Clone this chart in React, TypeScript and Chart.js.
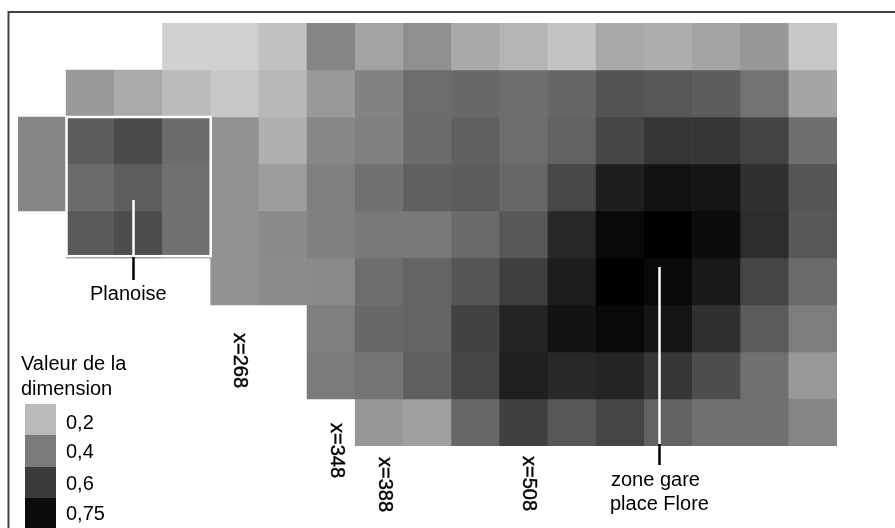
import React, { useEffect, useRef } from "react";
import { Chart, registerables } from "chart.js";

Chart.register(...registerables);

type Cell = number | null;
const _ = null;

const columns = ["108", "148", "188", "228", "268", "308", "348", "388", "428", "468", "508", "548", "588", "628", "668", "708", "748"];

const row0: Cell[] = [_, _, _, 0.132, 0.132, 0.176, 0.368, 0.274, 0.336, 0.255, 0.217, 0.173, 0.258, 0.239, 0.274, 0.311, 0.16];
const row1: Cell[] = [_, 0.305, 0.252, 0.198, 0.16, 0.208, 0.305, 0.374, 0.443, 0.459, 0.44, 0.465, 0.525, 0.513, 0.494, 0.428, 0.267];
const row2: Cell[] = [0.368, 0.497, 0.553, 0.447, 0.327, 0.233, 0.362, 0.384, 0.447, 0.484, 0.443, 0.478, 0.566, 0.616, 0.616, 0.575, 0.437];
const row3: Cell[] = [0.368, 0.447, 0.491, 0.434, 0.327, 0.292, 0.384, 0.434, 0.484, 0.497, 0.462, 0.563, 0.692, 0.73, 0.72, 0.638, 0.519];
const row4: Cell[] = [_, 0.506, 0.544, 0.434, 0.327, 0.352, 0.384, 0.406, 0.406, 0.453, 0.513, 0.66, 0.761, 0.786, 0.748, 0.648, 0.509];
const row5: Cell[] = [_, _, _, _, 0.324, 0.349, 0.352, 0.44, 0.472, 0.519, 0.591, 0.695, 0.783, 0.758, 0.708, 0.569, 0.45];
const row6: Cell[] = [_, _, _, _, _, _, 0.387, 0.459, 0.472, 0.579, 0.673, 0.726, 0.761, 0.72, 0.635, 0.5, 0.393];
const row7: Cell[] = [_, _, _, _, _, _, 0.399, 0.421, 0.484, 0.569, 0.689, 0.66, 0.673, 0.616, 0.544, 0.434, 0.308];
const row8: Cell[] = [_, _, _, _, _, _, _, 0.311, 0.283, 0.462, 0.585, 0.513, 0.569, 0.478, 0.434, 0.434, 0.368];
const rows = [row0, row1, row2, row3, row4, row5, row6, row7, row8];

const legendTitle = ["Valeur de la", "dimension"];
const legendValues = [0.2, 0.4, 0.6, 0.75];
const legendLabels = ["0,2", "0,4", "0,6", "0,75"];
const markedColumns = ["268", "348", "388", "508"];

const FONT = '20px "Liberation Sans", Arial, sans-serif';

function shade(v: number): string {
  const g = Math.max(0, Math.min(255, Math.round(250 - 318 * v)));
  return `rgb(${g},${g},${g})`;
}

const overlay = {
  id: "overlay",
  afterDatasetsDraw(chart: any) {
    const { ctx, scales } = chart;
    const xs = scales.x;
    ctx.save();

    // frame
    ctx.strokeStyle = "#404040";
    ctx.lineWidth = 2;
    ctx.beginPath();
    ctx.moveTo(895, 12);
    ctx.lineTo(8.5, 12);
    ctx.lineTo(8.5, 528);
    ctx.stroke();

    // Planoise box and leader
    ctx.strokeStyle = "#ffffff";
    ctx.lineWidth = 2.5;
    ctx.strokeRect(66.5, 117, 144.2, 139.2);
    ctx.beginPath();
    ctx.moveTo(133.5, 200);
    ctx.lineTo(133.5, 257);
    ctx.stroke();
    ctx.strokeStyle = "#000000";
    ctx.beginPath();
    ctx.moveTo(133.5, 257);
    ctx.lineTo(133.5, 280);
    ctx.stroke();

    // zone gare leader
    ctx.strokeStyle = "#ffffff";
    ctx.beginPath();
    ctx.moveTo(659.5, 267);
    ctx.lineTo(659.5, 444);
    ctx.stroke();
    ctx.strokeStyle = "#000000";
    ctx.beginPath();
    ctx.moveTo(659.5, 444);
    ctx.lineTo(659.5, 465);
    ctx.stroke();

    // text
    ctx.fillStyle = "#000000";
    ctx.font = FONT;
    ctx.textAlign = "left";
    ctx.textBaseline = "alphabetic";
    ctx.fillText("Planoise", 90, 300);
    ctx.fillText("zone gare", 611, 486);
    ctx.fillText("place Flore", 610, 510);
    ctx.fillText(legendTitle[0], 21, 370);
    ctx.fillText(legendTitle[1], 21, 395);

    // legend
    const tops = [404, 435, 467, 498, 530];
    const bases = [429, 458, 490, 520];
    legendValues.forEach((v, i) => {
      ctx.fillStyle = shade(v);
      ctx.fillRect(25, tops[i], 31, tops[i + 1] - tops[i]);
      ctx.fillStyle = "#000000";
      ctx.fillText(legendLabels[i], 66, bases[i]);
    });

    // rotated column marks
    const markTops = [333, 423, 457, 456];
    markedColumns.forEach((c, i) => {
      const px = xs.getPixelForValue(columns.indexOf(c)) + 5;
      ctx.save();
      ctx.translate(px, markTops[i]);
      ctx.rotate(Math.PI / 2);
      ctx.textBaseline = "middle";
      ctx.strokeStyle = "#000000";
      ctx.lineWidth = 0.4;
      ctx.strokeText("x=" + c, 0, 0);
      ctx.fillText("x=" + c, 0, 0);
      ctx.restore();
    });

    ctx.restore();
  },
};

export default function App() {
  const ref = useRef<HTMLCanvasElement>(null);
  useEffect(() => {
    const chart = new Chart(ref.current!, {
      type: "bar",
      data: {
        labels: columns,
        datasets: rows.map((row, r) => ({
          label: "row " + r,
          data: row.map((v) => (v === null ? null : [r, r + 1])) as any,
          backgroundColor: row.map((v) => (v === null ? "rgba(0,0,0,0)" : shade(v))),
          borderWidth: 0,
          barPercentage: 1,
          categoryPercentage: 1,
          grouped: false,
        })),
      },
      options: {
        animation: false,
        responsive: false,
        devicePixelRatio: 1,
        layout: { padding: { left: 18, right: 58, top: 23, bottom: 82 } },
        plugins: { legend: { display: false }, tooltip: { enabled: false }, title: { display: false } },
        scales: {
          x: { display: false, offset: true, grid: { display: false } },
          y: { display: false, min: 0, max: 9, reverse: true, grid: { display: false } },
        },
      },
      plugins: [overlay],
    } as any);
    return () => chart.destroy();
  }, []);
  return (
    <canvas
      ref={ref}
      width={895}
      height={528}
      style={{ position: "absolute", left: 0, top: 0, width: 895, height: 528, display: "block", background: "#fff" }}
    />
  );
}
